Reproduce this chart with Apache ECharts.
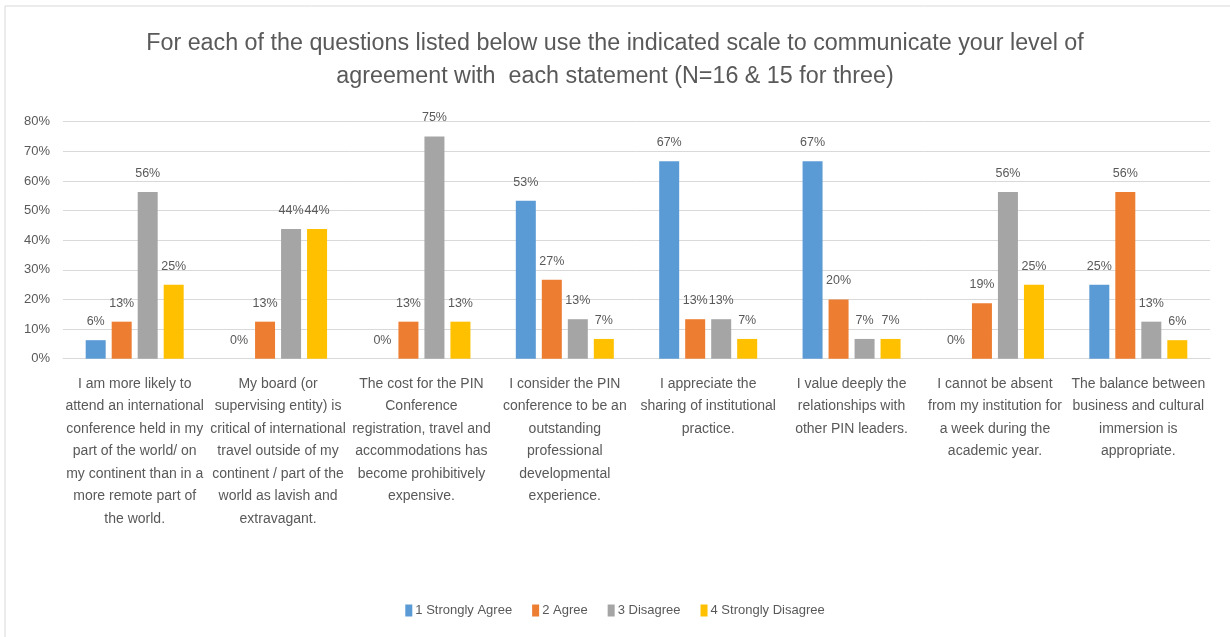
<!DOCTYPE html>
<html>
<head>
<meta charset="utf-8">
<script src="https://cdn.jsdelivr.net/npm/echarts@6/dist/echarts.min.js"></script>
<style>
html,body{margin:0;padding:0;background:#fff;}
#c{width:1230px;height:637px;}
</style>
</head>
<body>
<div id="c"></div>
<script>
const categories = [
  "I am more likely to\nattend an international\nconference held in my\npart of the world/ on\nmy continent than in a\nmore remote part of\nthe world.",
  "My board (or\nsupervising entity) is\ncritical of international\ntravel outside of my\ncontinent / part of the\nworld as lavish and\nextravagant.",
  "The cost for the PIN\nConference\nregistration, travel and\naccommodations has\nbecome prohibitively\nexpensive.",
  "I consider the PIN\nconference to be an\noutstanding\nprofessional\ndevelopmental\nexperience.",
  "I appreciate the\nsharing of institutional\npractice.",
  "I value deeply the\nrelationships with\nother PIN leaders.",
  "I cannot be absent\nfrom my institution for\na week during the\nacademic year.",
  "The balance between\nbusiness and cultural\nimmersion is\nappropriate."
];
const seriesNames = ["1 Strongly Agree", "2 Agree", "3 Disagree", "4 Strongly Disagree"];
const stronglyAgree    = [6.25, 0, 0, 53.33, 66.67, 66.67, 0, 25];
const agree            = [12.5, 12.5, 12.5, 26.67, 13.33, 20, 18.75, 56.25];
const disagree         = [56.25, 43.75, 75, 13.33, 13.33, 6.67, 56.25, 12.5];
const stronglyDisagree = [25, 43.75, 12.5, 6.67, 6.67, 6.67, 25, 6.25];
const yTicks = [0, 10, 20, 30, 40, 50, 60, 70, 80];
const colors = ["#5B9BD5", "#ED7D31", "#A5A5A5", "#FFC000"];
const titleText = "For each of the questions listed below use the indicated scale to communicate your level of\nagreement with  each statement (N=16 & 15 for three)";

const FONT = "Liberation Sans";
const allData = [stronglyAgree, agree, disagree, stronglyDisagree];

const chart = echarts.init(document.getElementById('c'));
chart.setOption({
  backgroundColor: '#fff',
  animation: false,
  color: colors,
  graphic: [{
    type: 'rect', shape: {x: 5, y: 6, width: 1260, height: 700},
    style: {fill: 'none', stroke: '#D9D9D9', lineWidth: 1}, silent: true, z: -1
  }],
  title: {
    text: titleText,
    left: 'center',
    top: 22,
    textStyle: {fontFamily: FONT, fontSize: 23.3, fontWeight: 'normal', color: '#595959', lineHeight: 33}
  },
  legend: {
    data: seriesNames,
    bottom: 15,
    left: 'center',
    itemWidth: 7,
    itemHeight: 12,
    itemGap: 20,
    icon: 'rect',
    textStyle: {fontFamily: FONT, fontSize: 13, color: '#595959', padding: [0, 0, 0, -2]}
  },
  grid: {left: 63, right: 20, top: 121.7, bottom: 278.3, containLabel: false},
  xAxis: {
    type: 'category',
    data: categories,
    axisLine: {show: true, lineStyle: {color: '#D9D9D9'}},
    axisTick: {show: false},
    axisLabel: {interval: 0, fontFamily: FONT, fontSize: 14, color: '#595959', lineHeight: 22.5, margin: 14}
  },
  yAxis: {
    type: 'value',
    min: 0, max: 80, interval: 10,
    axisLine: {show: false},
    axisTick: {show: false},
    splitLine: {lineStyle: {color: '#D9D9D9'}},
    axisLabel: {fontFamily: FONT, fontSize: 13, color: '#595959', margin: 13,
      formatter: v => yTicks.includes(v) ? v + '%' : ''}
  },
  series: seriesNames.map((n, i) => ({
    name: n,
    type: 'bar',
    data: allData[i],
    barWidth: 20,
    barGap: '30%',
    itemStyle: {color: colors[i]},
    label: {
      show: true, position: 'top', distance: 12,
      fontFamily: FONT, fontSize: 12.5, color: '#595959',
      formatter: p => Math.round(p.value) + '%'
    }
  }))
});
</script>
</body>
</html>
